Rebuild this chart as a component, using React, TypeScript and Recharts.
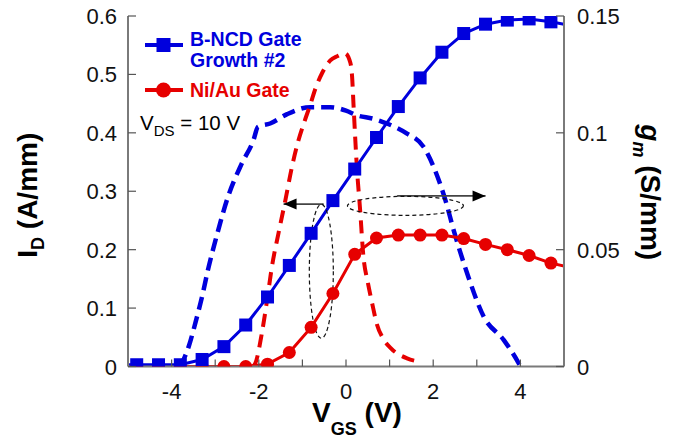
import React from 'react';
import { LineChart, Line, XAxis, YAxis, Legend, ReferenceDot, ReferenceLine } from 'recharts';

// ---- data ----
const idVgs = [-5, -4.8, -4.3, -3.8, -3.3, -2.8, -2.3, -1.8, -1.3, -0.8, -0.3, 0.2, 0.7, 1.2, 1.7, 2.2, 2.7, 3.2, 3.7, 4.2, 4.7, 5];
const bncdId = [0.003, 0.003, 0.003, 0.003, 0.012, 0.034, 0.071, 0.119, 0.173, 0.228, 0.284, 0.338, 0.392, 0.445, 0.494, 0.538, 0.57, 0.586, 0.593, 0.595, 0.59, 0.586];
const niauId = [0, 0, 0, 0, 0, 0, 0, 0.004, 0.024, 0.067, 0.125, 0.192, 0.22, 0.225, 0.225, 0.225, 0.219, 0.209, 0.2, 0.19, 0.177, 0.172];
const markerlessVgs = [-5, 5];

const bncdGmVgs = [-3.8, -3.7, -3.6, -3.45, -3.3, -3.17, -2.95, -2.7, -2.4, -2.12, -2.02, -1.74, -1.35, -0.82, -0.36, 0.0, 0.25, 0.63, 0.94, 1.4, 1.78, 2.01, 2.28, 2.47, 2.78, 3.16, 3.62, 3.96, 4.0];
const bncdGm = [0, 0.004, 0.009, 0.019, 0.03, 0.041, 0.057, 0.073, 0.0865, 0.097, 0.1025, 0.104, 0.108, 0.111, 0.111, 0.1095, 0.1075, 0.106, 0.104, 0.0997, 0.094, 0.0854, 0.0712, 0.0583, 0.0398, 0.0213, 0.0113, 0.0014, 0];

const niauGmVgs = [-2.15, -2.08, -1.93, -1.81, -1.7, -1.55, -1.39, -1.24, -1.09, -0.95, -0.82, -0.7, -0.55, -0.36, -0.2, -0.02, 0.1, 0.14, 0.175, 0.25, 0.32, 0.4, 0.5, 0.6, 0.71, 0.85, 1.02, 1.4, 1.71];
const niauGm = [0, 0.0014, 0.0142, 0.0284, 0.0426, 0.0569, 0.0712, 0.0854, 0.0968, 0.105, 0.112, 0.119, 0.1255, 0.131, 0.1328, 0.134, 0.13, 0.124, 0.111, 0.085, 0.068, 0.047, 0.036, 0.027, 0.018, 0.012, 0.008, 0.0035, 0.002];

const xDomain = [-5, 5];
const xTicks = [-4, -3, -2, -1, 0, 1, 2, 3, 4];
const xLabelledTicks = [-4, -2, 0, 2, 4];
const idDomain = [0, 0.6];
const idTicks = [0, 0.1, 0.2, 0.3, 0.4, 0.5, 0.6];
const gmDomain = [0, 0.15];
const gmTicks = [0, 0.05, 0.1, 0.15];

const legendNames = ['B-NCD Gate', 'Growth #2', 'Ni/Au Gate'];
const vdsNote = { main: 'V', sub: 'DS', rest: ' = 10 V' };

// annotation anchors (data coordinates)
const ellipseVert = { x: -0.566, y: 0.163 };
const ellipseHorz = { x: 1.363, y: 0.275 };
const arrowLeft = { from: { x: -0.513, y: 0.278 }, to: { x: -1.432, y: 0.278 } };
const arrowRight = { from: { x: 1.173, y: 0.292 }, to: { x: 3.201, y: 0.292 } };

// ---- styles ----
const BLUE = '#0000dd';
const RED = '#e60000';
const AXIS = '#7a7a7a';
const TICK = '#555';
const FONT = '"Liberation Sans", Arial, Helvetica, sans-serif';
const TICK_FS = 22;

const bncdIdData = idVgs.map((x, i) => ({ x, y: bncdId[i] }));
const niauIdData = idVgs.map((x, i) => ({ x, y: niauId[i] }));
const bncdGmData = bncdGmVgs.map((x, i) => ({ x, y: bncdGm[i] }));
const niauGmData = niauGmVgs.map((x, i) => ({ x, y: niauGm[i] }));

const fmt = (v: number) => String(v);

const BottomTick = (props: any) => {
  const { x, y, payload } = props;
  const v = payload.value;
  return (
    <g>
      <line x1={x} y1={y} x2={x} y2={y - 7} stroke={TICK} strokeWidth={1.2} />
      {xLabelledTicks.includes(v) && (
        <text x={x} y={y + 32} textAnchor="middle" fontSize={TICK_FS} fontFamily={FONT} fill="#111">
          {fmt(v)}
        </text>
      )}
    </g>
  );
};

const TopTick = (props: any) => {
  const { x, y } = props;
  return <line x1={x} y1={y} x2={x} y2={y + 7} stroke={TICK} strokeWidth={1.2} />;
};

const LeftTick = (props: any) => {
  const { x, y, payload } = props;
  return (
    <g>
      <line x1={x} y1={y} x2={x + 8} y2={y} stroke={TICK} strokeWidth={1.2} />
      <text x={x - 11} y={y + 8} textAnchor="end" fontSize={TICK_FS} fontFamily={FONT} fill="#111">
        {fmt(payload.value)}
      </text>
    </g>
  );
};

const RightTick = (props: any) => {
  const { x, y, payload } = props;
  return (
    <g>
      <line x1={x} y1={y} x2={x - 8} y2={y} stroke={TICK} strokeWidth={1.2} />
      <text x={x + 13} y={y + 8} textAnchor="start" fontSize={TICK_FS} fontFamily={FONT} fill="#111">
        {fmt(payload.value)}
      </text>
    </g>
  );
};

const LeftTitle = (props: any) => {
  const vb = props.viewBox || { x: 0, y: 16, width: 128, height: 350 };
  const cx = vb.x + 37;
  const cy = vb.y + vb.height / 2 + 4;
  return (
    <text x={cx} y={cy} transform={`rotate(-90, ${cx}, ${cy})`} textAnchor="middle" fontFamily={FONT} fontWeight="bold" fontSize={28} fill="#000">
      <tspan>I</tspan>
      <tspan fontSize={18} dy={7}>D</tspan>
      <tspan dy={-7}> (A/mm)</tspan>
    </text>
  );
};

const RightTitle = (props: any) => {
  const vb = props.viewBox || { x: 564, y: 16, width: 113, height: 350 };
  const cx = vb.x + 77;
  const cy = vb.y + vb.height / 2 + 1;
  return (
    <text x={cx} y={cy} transform={`rotate(90, ${cx}, ${cy})`} textAnchor="middle" fontFamily={FONT} fontWeight="bold" fontSize={28} fill="#000">
      <tspan fontStyle="italic">g</tspan>
      <tspan fontStyle="italic" fontSize={18} dy={8}>m</tspan>
      <tspan dy={-8}> (S/mm)</tspan>
    </text>
  );
};

const BottomTitle = (props: any) => {
  const vb = props.viewBox || { x: 128, y: 366, width: 436, height: 76 };
  const cx = vb.x + vb.width / 2 + 11;
  const cy = vb.y + 55;
  return (
    <text x={cx} y={cy} textAnchor="middle" fontFamily={FONT} fontWeight="bold" fontSize={28} fill="#000">
      <tspan>V</tspan>
      <tspan fontSize={18} dy={13}>GS</tspan>
      <tspan dy={-13}> (V)</tspan>
    </text>
  );
};

const SquareDot = (p: any) => {
  if (p.payload && markerlessVgs.includes(p.payload.x)) return <g key={p.index} />;
  return <rect key={p.index} x={p.cx - 6.5} y={p.cy - 6.5} width={13} height={13} fill={BLUE} />;
};

const CircleDot = (p: any) => {
  if (p.payload && markerlessVgs.includes(p.payload.x)) return <g key={p.index} />;
  return <circle key={p.index} cx={p.cx} cy={p.cy} r={6.5} fill={RED} />;
};

const LegendBox = () => {
  const ox = 135;
  const oy = 20;
  return (
    <svg width={260} height={125} style={{ display: 'block', overflow: 'visible' }}>
      <g transform={`translate(${-ox}, ${-oy})`}>
        <line x1={145} y1={45} x2={183} y2={45} stroke={BLUE} strokeWidth={4} />
        <rect x={156.5} y={38} width={14} height={14} fill={BLUE} />
        <text x={190} y={45.5} fontFamily={FONT} fontWeight="bold" fontSize={19.5} fill={BLUE}>{legendNames[0]}</text>
        <text x={190} y={66.5} fontFamily={FONT} fontWeight="bold" fontSize={19.5} fill={BLUE}>{legendNames[1]}</text>
        <line x1={145} y1={90} x2={183} y2={90} stroke={RED} strokeWidth={4} />
        <circle cx={163.5} cy={90} r={7.5} fill={RED} />
        <text x={190} y={97} fontFamily={FONT} fontWeight="bold" fontSize={19.5} fill={RED}>{legendNames[2]}</text>
        <text x={140} y={130} fontFamily={FONT} fontSize={20.5} fill="#000">
          <tspan>{vdsNote.main}</tspan>
          <tspan fontSize={15} dy={6}>{vdsNote.sub}</tspan>
          <tspan dy={-6}>{vdsNote.rest}</tspan>
        </text>
      </g>
    </svg>
  );
};

const EllipseShape = (rx: number, ry: number) => (p: any) => (
  <ellipse cx={p.cx} cy={p.cy} rx={rx} ry={ry} fill="none" stroke="#111" strokeWidth={1.2} strokeDasharray="4 3" />
);

const ArrowHead = (dir: number) => (p: any) => (
  <polygon
    points={`${p.cx},${p.cy} ${p.cx - dir * 13},${p.cy - 5.5} ${p.cx - dir * 13},${p.cy + 5.5}`}
    fill="#000"
  />
);

export default function App() {
  return (
    <div style={{ position: 'absolute', left: 0, top: 0, width: 677, height: 442, background: '#fff' }}>
      <LineChart width={677} height={442} margin={{ top: 16, right: 0, bottom: 0, left: 0 }}>
        <XAxis
          xAxisId="b"
          type="number"
          dataKey="x"
          domain={xDomain}
          ticks={xTicks}
          allowDataOverflow
          height={75.5}
          tickSize={0}
          tickMargin={0}
          tickLine={false}
          axisLine={{ stroke: AXIS, strokeWidth: 2 }}
          tick={<BottomTick />}
          interval={0}
          label={<BottomTitle />}
        />
        <XAxis
          xAxisId="t"
          orientation="top"
          type="number"
          dataKey="x"
          domain={xDomain}
          ticks={xTicks}
          allowDataOverflow
          height={0}
          tickSize={0}
          tickMargin={0}
          tickLine={false}
          axisLine={{ stroke: AXIS, strokeWidth: 2 }}
          tick={<TopTick />}
          interval={0}
        />
        <YAxis
          yAxisId="l"
          type="number"
          domain={idDomain}
          ticks={idTicks}
          allowDataOverflow
          width={128}
          tickSize={0}
          tickMargin={0}
          tickLine={false}
          axisLine={{ stroke: AXIS, strokeWidth: 2 }}
          tick={<LeftTick />}
          interval={0}
          label={<LeftTitle />}
        />
        <YAxis
          yAxisId="r"
          orientation="right"
          type="number"
          domain={gmDomain}
          ticks={gmTicks}
          allowDataOverflow
          width={113}
          tickSize={0}
          tickMargin={0}
          tickLine={false}
          axisLine={{ stroke: AXIS, strokeWidth: 2 }}
          tick={<RightTick />}
          interval={0}
          label={<RightTitle />}
        />
        <Line
          xAxisId="b"
          yAxisId="r"
          data={bncdGmData}
          dataKey="y"
          type="monotone"
          stroke={BLUE}
          strokeWidth={4.5}
          strokeDasharray="13 7"
          dot={false}
          activeDot={false}
          isAnimationActive={false}
        />
        <Line
          xAxisId="b"
          yAxisId="r"
          data={niauGmData}
          dataKey="y"
          type="monotone"
          stroke={RED}
          strokeWidth={4}
          strokeDasharray="13 8"
          dot={false}
          activeDot={false}
          isAnimationActive={false}
        />
        <Line
          xAxisId="b"
          yAxisId="l"
          data={niauIdData}
          dataKey="y"
          type="linear"
          stroke={RED}
          strokeWidth={3}
          dot={CircleDot}
          activeDot={false}
          isAnimationActive={false}
        />
        <Line
          xAxisId="b"
          yAxisId="l"
          data={bncdIdData}
          dataKey="y"
          type="linear"
          stroke={BLUE}
          strokeWidth={3}
          dot={SquareDot}
          activeDot={false}
          isAnimationActive={false}
        />
        <ReferenceDot xAxisId="b" yAxisId="l" x={ellipseVert.x} y={ellipseVert.y} shape={EllipseShape(12, 67)} />
        <ReferenceDot xAxisId="b" yAxisId="l" x={ellipseHorz.x} y={ellipseHorz.y} shape={EllipseShape(58, 9.5)} />
        <ReferenceLine
          xAxisId="b"
          yAxisId="l"
          segment={[arrowLeft.from, arrowLeft.to]}
          stroke="#444"
          strokeWidth={1.6}
        />
        <ReferenceDot xAxisId="b" yAxisId="l" x={arrowLeft.to.x} y={arrowLeft.to.y} shape={ArrowHead(-1)} />
        <ReferenceLine
          xAxisId="b"
          yAxisId="l"
          segment={[arrowRight.from, arrowRight.to]}
          stroke="#444"
          strokeWidth={1.6}
        />
        <ReferenceDot xAxisId="b" yAxisId="l" x={arrowRight.to.x} y={arrowRight.to.y} shape={ArrowHead(1)} />
        <Legend
          layout="vertical"
          align="center"
          verticalAlign="middle"
          content={<LegendBox />}
          wrapperStyle={{ left: 135, top: 20, width: 260, height: 125 }}
        />
      </LineChart>
    </div>
  );
}
